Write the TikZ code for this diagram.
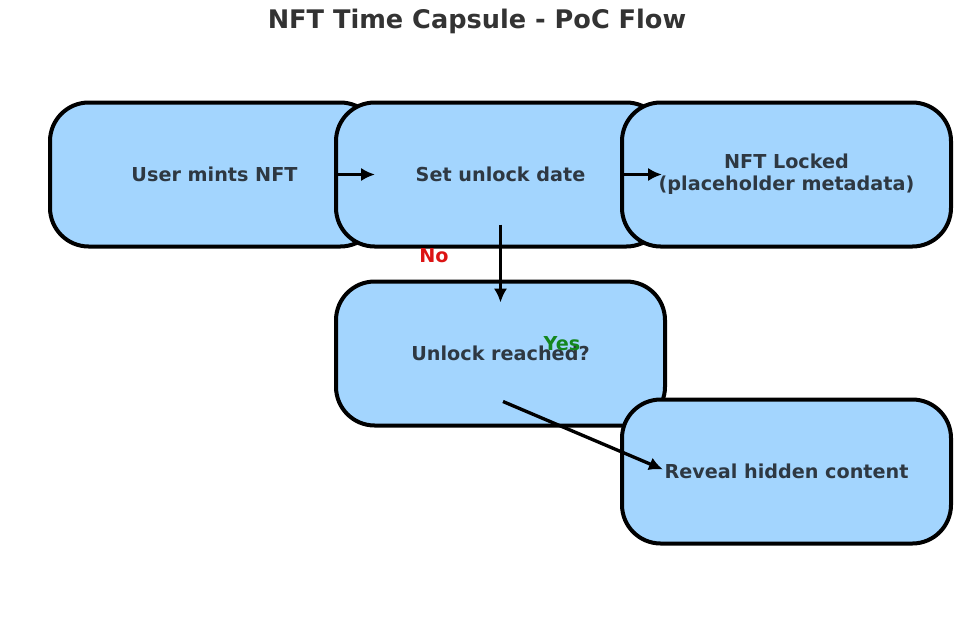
\documentclass[tikz,border=0pt]{standalone}
\usepackage{fontspec}
\setmainfont{DejaVu Sans}
\usetikzlibrary{calc,arrows.meta}
\definecolor{boxfill}{RGB}{163,213,254}
\definecolor{boxtext}{RGB}{46,56,66}
\definecolor{titletext}{RGB}{51,51,51}
\definecolor{nored}{RGB}{220,20,20}
\definecolor{yesgreen}{RGB}{20,135,30}
\begin{document}
\begin{tikzpicture}[x=0.75pt,y=-0.75pt,
  stepbox/.style={draw=black, line width=3pt, fill=boxfill, rounded corners=29pt,
    minimum width=246.75pt, minimum height=108pt, inner sep=0pt, align=center,
    font=\fontsize{14.4}{16.5}\selectfont\bfseries, text=boxtext},
  arr/.style={-{Latex[length=10.5pt,width=10pt]}, line width=2.5pt},
  lab/.style={font=\fontsize{14.4}{16.5}\selectfont\bfseries, inner sep=0pt}]
\useasboundingbox (0,0) rectangle (968,637);
\node[font=\fontsize{19.2}{22}\selectfont\bfseries, text=titletext, inner sep=0pt] (title) at (477,21) {NFT Time Capsule - PoC Flow};
\node[stepbox] (b1) at (214.5,174.5) {User mints NFT};
\node[stepbox] (b2) at (500.5,174.5) {Set unlock date};
\node[stepbox] (b3) at (786.5,174.5) {NFT Locked\\(placeholder metadata)};
\node[stepbox] (b4) at (500.5,353.5) {Unlock reached?};
\node[stepbox] (b5) at (786.5,471.5) {Reveal hidden content};
\draw[arr] (b2.west) -- ($(b2.west)+(41,0)$);
\draw[arr] (b3.west) -- ($(b3.west)+(42,0)$);
\draw[arr] ($(b2.south)+(0,-24)$) -- ($(b4.north)+(0,23)$);
\draw[arr] ($(b4.south)+(2.5,-26)$) -- ($(b5.west)+(43,-2)$);
\node[lab, text=nored] (no) at (434,256) {No};
\node[lab, text=yesgreen] (yes) at (562,344) {Yes};
\end{tikzpicture}
\end{document}
